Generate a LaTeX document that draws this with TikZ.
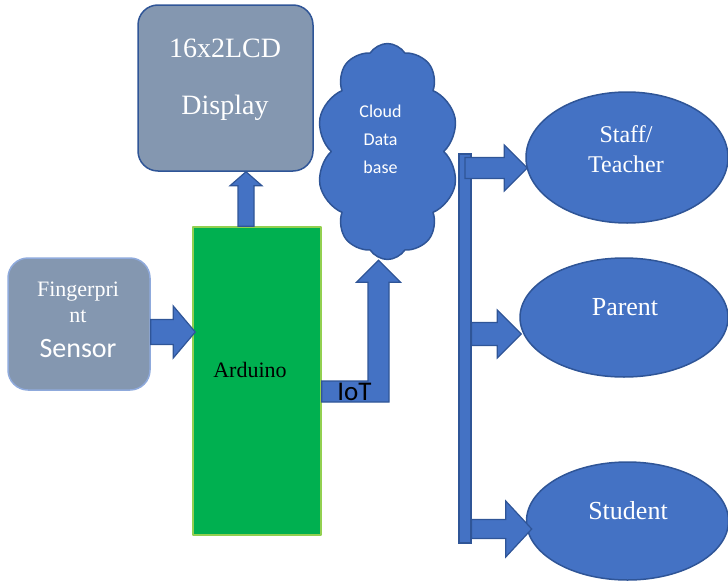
\documentclass[tikz,border=0pt]{standalone}
\usepackage{fontspec}
\setmainfont{Liberation Serif}
\newfontfamily\calib{Carlito}
\usetikzlibrary{calc,shapes.geometric,shapes.symbols}

\definecolor{slate}{HTML}{8497B0}
\definecolor{blockblue}{HTML}{4472C4}
\definecolor{edgeblue}{HTML}{2F5597}
\definecolor{skyedge}{HTML}{8FAADC}
\definecolor{ardgreen}{HTML}{00B050}
\definecolor{limeedge}{HTML}{92D050}

\tikzset{
  panel/.style={rectangle, rounded corners=20pt, fill=slate, line width=1.5pt, inner sep=0pt},
  user/.style={ellipse, fill=blockblue, draw=edgeblue, line width=1.5pt, inner sep=0pt},
  fatarrow/.style={fill=blockblue, draw=edgeblue, line width=1.2pt, line join=miter},
  caption/.style={text=white, align=center, inner sep=0pt},
}

% tail, tip, shaft half, head half, head length
\newcommand\fatright[5]{%
  \draw[fatarrow] let \p1=(#1), \p2=(#2) in
    (\x1,\y2+#3) -- (\x2-#5,\y2+#3) -- (\x2-#5,\y2+#4) -- (\x2,\y2)
    -- (\x2-#5,\y2-#4) -- (\x2-#5,\y2-#3) -- (\x1,\y2-#3) -- cycle;}
\newcommand\fatup[5]{%
  \draw[fatarrow] let \p1=(#1), \p2=(#2) in
    (\x2-#3,\y1) -- (\x2-#3,\y2-#5) -- (\x2-#4,\y2-#5) -- (\x2,\y2)
    -- (\x2+#4,\y2-#5) -- (\x2+#3,\y2-#5) -- (\x2+#3,\y1) -- cycle;}

\begin{document}
\begin{tikzpicture}[x=1pt, y=-1pt, line join=round]
	\useasboundingbox (0,0) rectangle (728,581);
	% blocks
	\node[panel, draw=skyedge, minimum width=142pt, minimum height=132pt] (finger) at (79,324) {};
	\node[panel, draw=edgeblue, minimum width=175pt, minimum height=166pt] (lcd) at (225.5,88) {};
	\node[rectangle, fill=ardgreen, draw=limeedge, line width=1.5pt, minimum width=128pt, minimum height=308pt] (arduino) at (257,381) {};
	\node[cloud, cloud puffs=10, cloud puff arc=115, cloud ignores aspect, fill=blockblue, draw=edgeblue, line width=1.5pt, minimum width=142pt, minimum height=216pt] (cloud) at (387.5,151.5) {};
	\node[user, minimum width=202pt, minimum height=131pt] (staff) at (627,157.5) {};
	\node[user, minimum width=208pt, minimum height=119pt] (parent) at (624,317.5) {};
	\node[user, minimum width=202pt, minimum height=118pt] (student) at (627.5,521) {};
	\node[fatarrow, rectangle, minimum width=12pt, minimum height=389pt, inner sep=0pt] (bus) at (465,348.5) {};

	% texts
	\node[caption, font=\fontsize{22}{26}\selectfont] (fingertxt) at (78,302.5) {Fingerpri\\nt};
	\node[caption, font=\calib\fontsize{28}{30}\selectfont] (sensortxt) at (78,349) {Sensor};
	\node[caption, font=\fontsize{28}{57}\selectfont] (lcdtxt) at (225,80) {16x2LCD\\Display};
	\node[caption, font=\calib\fontsize{18}{28}\selectfont] (cloudtxt) at (380.5,139) {Cloud\\Data\\base};
	\node[caption, text=black, font=\fontsize{22}{26}\selectfont] (ardtxt) at (250,369.5) {Arduino};
	\node[caption, font=\fontsize{24}{30}\selectfont] (stafftxt) at (626,149) {Staff/\\Teacher};
	\node[caption, font=\fontsize{26}{30}\selectfont] (parenttxt) at (625,307) {Parent};
	\node[caption, font=\fontsize{26}{30}\selectfont] (studenttxt) at (628,511) {Student};

	% arrow ends
	\coordinate (fingerout) at (finger.east |- 0,332);
	\coordinate (ardin) at ($(arduino.west |- 0,332)+(3,0)$);
	\coordinate (ardtop) at (arduino.north -| 246,0);
	\coordinate (lcdin) at (lcd.south -| 246,0);
	\coordinate (ardout) at (arduino.east |- 0,391.5);
	\coordinate (cloudin) at (cloud.south -| 378.5,0);
	\coordinate (busa) at (bus.center |- 0,167.5);
	\coordinate (busb) at (bus.east |- 0,334);
	\coordinate (busc) at (bus.east |- 0,528);
	\coordinate (staffin) at ($(staff.west |- 0,168)+(2,0)$);
	\coordinate (parentin) at ($(parent.west |- 0,334)+(2,0)$);
	\coordinate (studentin) at ($(student.west |- 0,529)+(6,0)$);

	% arrows
	\fatright{fingerout}{ardin}{12.5pt}{26pt}{22pt}
	\fatup{ardtop}{lcdin}{8pt}{16pt}{14pt}
	\draw[fatarrow] let \p1=(ardout), \p2=(cloudin) in
		(\x1,\y1+10.5pt) -- (\x2-10.5pt,\y1+10.5pt) -- (\x2-10.5pt,\y2-22pt) -- (\x2-22pt,\y2-22pt)
		-- (\x2,\y2) -- (\x2+22pt,\y2-22pt) -- (\x2+10.5pt,\y2-22pt) -- (\x2+10.5pt,\y1-10.5pt)
		-- (\x1,\y1-10.5pt) -- cycle;
	\node[inner sep=0pt, font=\calib\fontsize{27}{30}\selectfont] (iottxt) at (354.5,392) {IoT};
	\fatright{busa}{staffin}{10.5pt}{23pt}{23pt}
	\fatright{busb}{parentin}{11.5pt}{24pt}{24pt}
	\fatright{busc}{studentin}{9.5pt}{28pt}{26pt}
\end{tikzpicture}
\end{document}
